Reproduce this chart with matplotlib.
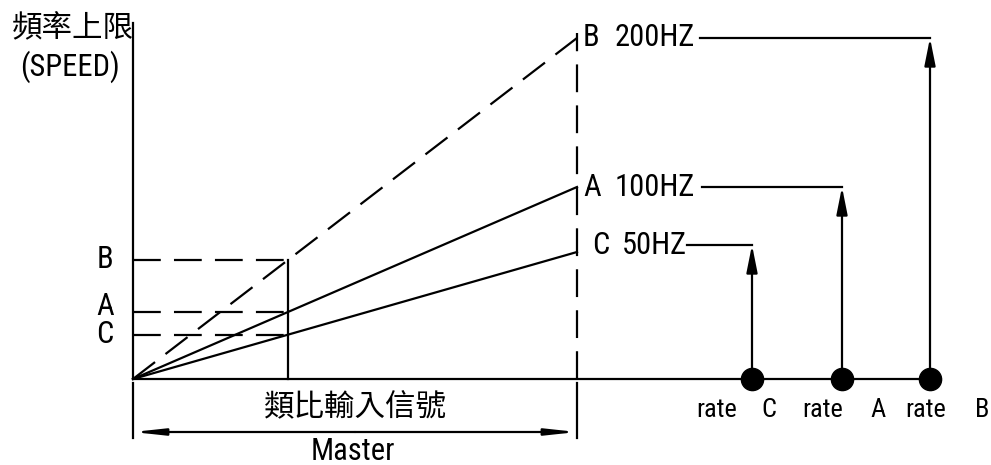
import matplotlib
matplotlib.use("Agg")
import matplotlib.pyplot as plt
from matplotlib import font_manager as fm

# ---------------- data (diagram units) ----------------
channels = ["B", "A", "C"]                 # frequency channels
freq_hz = [200, 100, 50]                   # upper frequency limits
full_scale_height = [341, 192, 127]        # height of each ramp at full master input
label_height = [341, 192, 134]             # height of the frequency leader lines
master_full = 444                          # full-scale analog input
master_point = 155                         # example analog input level
rate_names = ["C", "A", "B"]
rate_pos = [619, 709, 797]                 # positions of the rate dots
axis_top = 356
y_title = "頻率上限"
y_sub = "(SPEED)"
x_title = "類比輸入信號"
x_sub = "Master"

# ---------------- fonts ----------------
avail = {f.name for f in fm.fontManager.ttflist}
latin = next((f for f in ["Liberation Sans Narrow", "Roboto Condensed", "DejaVu Sans"] if f in avail), "DejaVu Sans")
cjk = "Noto Sans CJK TC"
plt.rcParams["lines.scale_dashes"] = False

fig = plt.figure(figsize=(9.91, 4.65), dpi=100)
ax = fig.add_axes([0, 0, 1, 1])
ax.set_xlim(-133, 858)
ax.set_ylim(-86, 379)
ax.axis("off")

LW = 1.6
DASH = (0, (20, 9.5))
k = "black"

# axes
ax.plot([0, 0], [0, axis_top], color=k, lw=LW)
ax.plot([0, max(rate_pos)], [0, 0], color=k, lw=LW)
# full-scale dashed vertical
ax.plot([master_full, master_full], [0, max(full_scale_height) + 5], color=k, lw=LW, linestyle=DASH)

# ramps
frac = master_point / master_full
for ch, h in zip(channels, full_scale_height):
    style = DASH if ch == "B" else "-"
    ax.plot([0, master_full], [0, h], color=k, lw=LW, linestyle=style)
    ax.plot([0, master_point], [h * frac, h * frac], color=k, lw=LW, linestyle=DASH)
ax.plot([master_point, master_point], [0, max(full_scale_height) * frac], color=k, lw=LW)

# left labels
left_off = {"B": 0, "A": 5, "C": 0}
for ch, h in zip(channels, full_scale_height):
    ax.text(-28, h * frac + left_off[ch], ch, family=[latin], fontsize=22,
            ha="center", va="center")

# right labels + leaders + arrows
letter_x = {"B": 450, "A": 450, "C": 459}
value_x = {"B": 482, "A": 482, "C": 489}
leader_x = {"B": 567, "A": 569, "C": 554}
rate_of = dict(zip(rate_names, rate_pos))
for ch, hz, ly in zip(channels, freq_hz, label_height):
    ax.text(letter_x[ch], ly, ch, family=[latin], fontsize=22, ha="left", va="center")
    ax.text(value_x[ch], ly, f"{hz}HZ", family=[latin], fontsize=22, ha="left", va="center")
    rx = rate_of[ch]
    ax.plot([leader_x[ch], rx], [ly, ly], color=k, lw=LW)
    ax.annotate("", xy=(rx, ly), xytext=(rx, 0),
                arrowprops=dict(arrowstyle="-|>,head_length=1.1,head_width=0.22",
                                mutation_scale=15, color=k, lw=LW,
                                shrinkA=0, shrinkB=0))

# rate dots and labels
ax.plot(rate_pos, [0] * len(rate_pos), linestyle="none", marker="o",
        markersize=16, color=k, zorder=5)
word_x = [584, 690, 793]
letter_rx = [636, 745, 849]
for name, wx, lx in zip(rate_names, word_x, letter_rx):
    ax.text(wx, -31, "rate", family=[latin], fontsize=19, ha="center", va="center")
    ax.text(lx, -31, name, family=[latin], fontsize=19, ha="center", va="center")

# dimension line
for xx in [0, master_full]:
    ax.plot([xx, xx], [-4, -59], color=k, lw=LW)
mid = master_full / 2
for end in [0, master_full]:
    ax.annotate("", xy=(end, -53), xytext=(mid, -53),
                arrowprops=dict(arrowstyle="-|>,head_length=1.2,head_width=0.13",
                                mutation_scale=15, color=k, lw=LW,
                                shrinkA=0, shrinkB=0))
ax.text(mid, -28, x_title, family=[cjk, latin], fontsize=22,
        ha="center", va="center")
ax.text(mid - 2, -72, x_sub, family=[latin], fontsize=22,
        ha="center", va="center")

# y titles
ax.text(1, 350, y_title, family=[cjk, latin], fontsize=22, ha="right", va="center")
ax.text(-63, 312, y_sub, family=[latin], fontsize=22, ha="center", va="center")

fig.savefig("out.png", dpi=100)
